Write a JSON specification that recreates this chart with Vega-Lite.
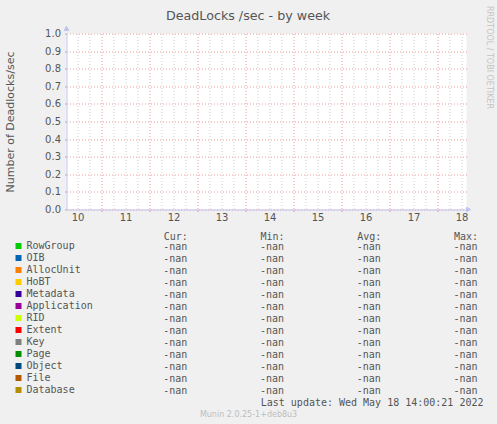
{
  "$schema": "https://vega.github.io/schema/vega-lite/v6.json",
  "description": "Munin weekly graph of SQL Server deadlocks per second, by lock type",
  "background": "#f0f0f0",
  "padding": {"left": 4.5, "top": 4.5, "right": 4.5, "bottom": 6.5},
  "bounds": "flush",
  "spacing": 31,
  "config": {
    "view": {"stroke": null},
    "mark": {"invalid": "filter"},
    "axis": {
      "labelFont": "DejaVu Sans",
      "titleFont": "DejaVu Sans",
      "labelColor": "#555555",
      "titleColor": "#555555",
      "titleFontWeight": "normal"
    },
    "title": {"fontWeight": "normal"}
  },
  "title": {
    "text": "Munin 2.0.25-1+deb8u3",
    "orient": "bottom",
    "anchor": "middle",
    "font": "DejaVu Sans",
    "fontSize": 8,
    "color": "#bdbdbd",
    "baseline": "alphabetic",
    "offset": 9
  },
  "datasets": {
    "series": [
      {"series": "RowGroup", "cur": "-nan", "min": "-nan", "avg": "-nan", "max": "-nan"},
      {"series": "OIB", "cur": "-nan", "min": "-nan", "avg": "-nan", "max": "-nan"},
      {"series": "AllocUnit", "cur": "-nan", "min": "-nan", "avg": "-nan", "max": "-nan"},
      {"series": "HoBT", "cur": "-nan", "min": "-nan", "avg": "-nan", "max": "-nan"},
      {"series": "Metadata", "cur": "-nan", "min": "-nan", "avg": "-nan", "max": "-nan"},
      {"series": "Application", "cur": "-nan", "min": "-nan", "avg": "-nan", "max": "-nan"},
      {"series": "RID", "cur": "-nan", "min": "-nan", "avg": "-nan", "max": "-nan"},
      {"series": "Extent", "cur": "-nan", "min": "-nan", "avg": "-nan", "max": "-nan"},
      {"series": "Key", "cur": "-nan", "min": "-nan", "avg": "-nan", "max": "-nan"},
      {"series": "Page", "cur": "-nan", "min": "-nan", "avg": "-nan", "max": "-nan"},
      {"series": "Object", "cur": "-nan", "min": "-nan", "avg": "-nan", "max": "-nan"},
      {"series": "File", "cur": "-nan", "min": "-nan", "avg": "-nan", "max": "-nan"},
      {"series": "Database", "cur": "-nan", "min": "-nan", "avg": "-nan", "max": "-nan"}
    ]
  },
  "data": {"name": "series"},
  "resolve": {"scale": {"color": "independent"}},
  "vconcat": [
    {
      "width": 400,
      "height": 176,
      "view": {"fill": "#ffffff", "stroke": null},
      "layer": [
        {
          "mark": {"type": "line", "clip": true},
          "encoding": {
            "x": {
              "field": "time",
              "type": "temporal",
              "scale": {
                "domain": [
                  {"year": 2022, "month": 5, "date": 10, "hours": 6, "minutes": 30},
                  {"year": 2022, "month": 5, "date": 18, "hours": 14, "minutes": 30}
                ]
              },
              "axis": {
                "title": null,
                "values": [
                  {"year": 2022, "month": 5, "date": 10, "hours": 12},
                  {"year": 2022, "month": 5, "date": 10, "hours": 18},
                  {"year": 2022, "month": 5, "date": 11, "hours": 0},
                  {"year": 2022, "month": 5, "date": 11, "hours": 6},
                  {"year": 2022, "month": 5, "date": 11, "hours": 12},
                  {"year": 2022, "month": 5, "date": 11, "hours": 18},
                  {"year": 2022, "month": 5, "date": 12, "hours": 0},
                  {"year": 2022, "month": 5, "date": 12, "hours": 6},
                  {"year": 2022, "month": 5, "date": 12, "hours": 12},
                  {"year": 2022, "month": 5, "date": 12, "hours": 18},
                  {"year": 2022, "month": 5, "date": 13, "hours": 0},
                  {"year": 2022, "month": 5, "date": 13, "hours": 6},
                  {"year": 2022, "month": 5, "date": 13, "hours": 12},
                  {"year": 2022, "month": 5, "date": 13, "hours": 18},
                  {"year": 2022, "month": 5, "date": 14, "hours": 0},
                  {"year": 2022, "month": 5, "date": 14, "hours": 6},
                  {"year": 2022, "month": 5, "date": 14, "hours": 12},
                  {"year": 2022, "month": 5, "date": 14, "hours": 18},
                  {"year": 2022, "month": 5, "date": 15, "hours": 0},
                  {"year": 2022, "month": 5, "date": 15, "hours": 6},
                  {"year": 2022, "month": 5, "date": 15, "hours": 12},
                  {"year": 2022, "month": 5, "date": 15, "hours": 18},
                  {"year": 2022, "month": 5, "date": 16, "hours": 0},
                  {"year": 2022, "month": 5, "date": 16, "hours": 6},
                  {"year": 2022, "month": 5, "date": 16, "hours": 12},
                  {"year": 2022, "month": 5, "date": 16, "hours": 18},
                  {"year": 2022, "month": 5, "date": 17, "hours": 0},
                  {"year": 2022, "month": 5, "date": 17, "hours": 6},
                  {"year": 2022, "month": 5, "date": 17, "hours": 12},
                  {"year": 2022, "month": 5, "date": 17, "hours": 18},
                  {"year": 2022, "month": 5, "date": 18, "hours": 0},
                  {"year": 2022, "month": 5, "date": 18, "hours": 6},
                  {"year": 2022, "month": 5, "date": 18, "hours": 12}
                ],
                "grid": true,
                "gridDash": [1, 2],
                "gridColor": {"condition": {"test": "hours(datum.value) === 0", "value": "#f29a9a"}, "value": "#cfcfcf"},
                "tickColor": {"condition": {"test": "hours(datum.value) === 0", "value": "#f29a9a"}, "value": "transparent"},
                "tickSize": 2,
                "labelPadding": 1,
                "labelExpr": "hours(datum.value) === 12 ? timeFormat(datum.value, '%d') : ''",
                "labelOverlap": false,
                "labelFlush": false,
                "labelFontSize": 10,
                "domainColor": "#c4c4f0"
              }
            },
            "y": {
              "field": "cur",
              "type": "quantitative",
              "scale": {"domain": [0, 1], "nice": false},
              "axis": {
                "values": [0, 0.1, 0.2, 0.3, 0.4, 0.5, 0.6, 0.7, 0.8, 0.9, 1],
                "format": ".1f",
                "grid": true,
                "gridDash": [1, 2],
                "gridColor": "#f29a9a",
                "tickSize": 2,
                "tickColor": "#b0b0b0",
                "labelPadding": 4,
                "labelFontSize": 10,
                "domainColor": "#c4c4f0",
                "title": "Number of Deadlocks/sec",
                "titleFontSize": 11,
                "titlePadding": 29
              }
            },
            "color": {
              "field": "series",
              "type": "nominal",
              "sort": null,
              "scale": {
                "domain": ["RowGroup", "OIB", "AllocUnit", "HoBT", "Metadata", "Application", "RID", "Extent", "Key", "Page", "Object", "File", "Database"],
                "range": ["#00cc00", "#0066b3", "#ff8000", "#ffcc00", "#330099", "#990099", "#ccff00", "#ff0000", "#808080", "#008f00", "#00487d", "#b35a00", "#b38f00"]
              },
              "legend": null
            }
          }
        },
        {
          "mark": {"type": "line", "clip": true},
          "encoding": {
            "x": {
              "field": "time",
              "type": "temporal",
              "axis": {
                "orient": "top",
                "labels": false,
                "ticks": false,
                "domain": false,
                "grid": false,
                "title": "DeadLocks /sec - by week",
                "titleX": 181,
                "titleY": -13.7,
                "titleAlign": "center",
                "titleBaseline": "alphabetic",
                "titleAngle": 0,
                "titleFontSize": 12.7
              }
            },
            "y": {
              "field": "cur",
              "type": "quantitative",
              "axis": {
                "orient": "right",
                "labels": false,
                "ticks": false,
                "domain": false,
                "grid": false,
                "title": "RRDTOOL / TOBI OETIKER",
                "titleX": 22,
                "titleY": 23.5,
                "titleAngle": 90,
                "titleAlign": "center",
                "titleBaseline": "middle",
                "titleFontSize": 8,
                "titleColor": "#c4c4c4"
              }
            }
          }
        },
        {
          "mark": {"type": "point", "shape": "triangle-up", "filled": true, "size": 22, "opacity": 1, "color": "#c4c4f0", "clip": false},
          "encoding": {
            "x": {"datum": {"year": 2022, "month": 5, "date": 10, "hours": 6, "minutes": 30}, "type": "temporal", "axis": null},
            "y": {"datum": 1.03, "type": "quantitative", "axis": null}
          }
        },
        {
          "mark": {"type": "point", "shape": "triangle-right", "filled": true, "size": 22, "opacity": 1, "color": "#c4c4f0", "clip": false},
          "encoding": {
            "x": {"datum": {"year": 2022, "month": 5, "date": 18, "hours": 15, "minutes": 30}, "type": "temporal", "axis": null},
            "y": {"datum": 0, "type": "quantitative", "axis": null}
          }
        }
      ],
      "resolve": {"axis": {"x": "independent", "y": "independent"}}
    },
    {
      "width": 411,
      "height": 156,
      "title": {
        "text": "Last update: Wed May 18 14:00:21 2022",
        "orient": "bottom",
        "anchor": "end",
        "frame": "group",
        "font": "DejaVu Sans Mono",
        "fontSize": 10,
        "color": "#555555",
        "baseline": "alphabetic",
        "offset": 9,
        "dx": 6
      },
      "transform": [{"fold": ["cur", "min", "avg", "max"], "as": ["stat", "val"]}],
      "encoding": {
        "y": {"field": "series", "type": "nominal", "sort": null, "scale": {"padding": 0.5}, "axis": null}
      },
      "layer": [
        {
          "mark": {"type": "square", "opacity": 0, "size": 36},
          "encoding": {
            "color": {
              "field": "series",
              "type": "nominal",
              "sort": null,
              "scale": {
                "domain": ["RowGroup", "OIB", "AllocUnit", "HoBT", "Metadata", "Application", "RID", "Extent", "Key", "Page", "Object", "File", "Database"],
                "range": ["#00cc00", "#0066b3", "#ff8000", "#ffcc00", "#330099", "#990099", "#ccff00", "#ff0000", "#808080", "#008f00", "#00487d", "#b35a00", "#b38f00"]
              },
              "legend": {
                "orient": "none",
                "legendX": -53,
                "legendY": 0.5,
                "direction": "vertical",
                "title": null,
                "symbolType": "square",
                "symbolSize": 36,
                "symbolOpacity": 1,
                "symbolStrokeWidth": 0,
                "labelFont": "DejaVu Sans Mono",
                "labelFontSize": 10,
                "labelColor": "#555555",
                "labelOffset": 3,
                "labelLimit": 200,
                "rowPadding": 2,
                "padding": 0
              }
            }
          }
        },
        {
          "mark": {"type": "text", "align": "right", "font": "DejaVu Sans Mono", "fontSize": 10, "color": "#555555"},
          "encoding": {
            "x": {
              "field": "stat",
              "type": "nominal",
              "sort": ["cur", "min", "avg", "max"],
              "scale": {"type": "point", "padding": 0.625, "align": 1},
              "axis": {
                "orient": "top",
                "title": null,
                "ticks": false,
                "tickSize": 0,
                "domain": false,
                "grid": false,
                "labelExpr": "(datum.value === 'cur' ? 'Cur:' : datum.value === 'min' ? 'Min:' : datum.value === 'avg' ? 'Avg:' : 'Max:') + '\u00a0'",
                "labelAngle": 0,
                "labelAlign": "right",
                "labelBaseline": "alphabetic",
                "labelPadding": 1.5,
                "labelFont": "DejaVu Sans Mono",
                "labelFontSize": 10
              }
            },
            "text": {"field": "val", "type": "nominal"}
          }
        }
      ]
    }
  ]
}
